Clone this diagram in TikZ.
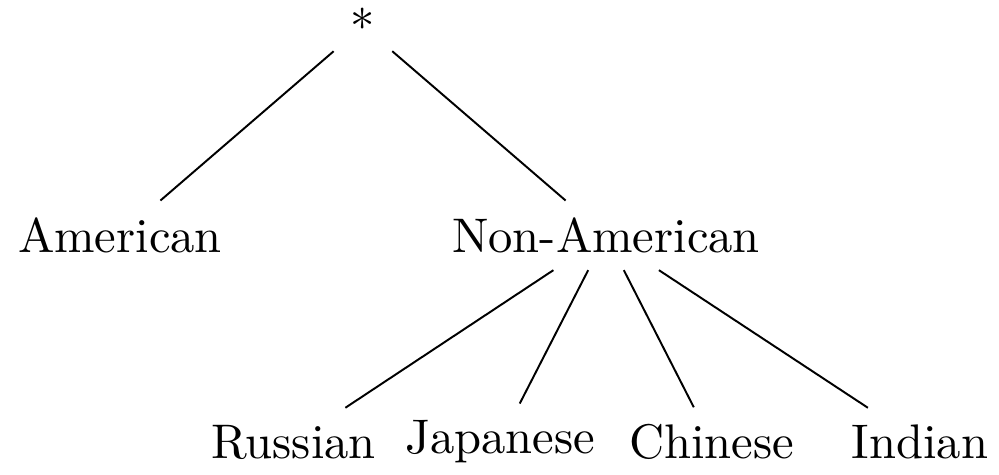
\documentclass[tikz,border=0pt]{standalone}
\usepackage{tikz}

\begin{document}
\begin{tikzpicture}[label/.style={inner sep=0.333em}]
    \useasboundingbox (0,0) rectangle (7.225,-3.435);
    % ---- root and first level
    \node[label] (root) at (2.625,-0.188) {*};
    \node[label] (amer) at (0.868,-1.702) {American};
    \node[label] (nonamer) at (4.383,-1.702) {Non-American};
    \draw (root) -- (amer);
    \draw (root) -- (nonamer);
    % ---- second level
    \node[label] (russian) at (2.123,-3.197) {Russian};
    \node[label] (japanese) at (3.616,-3.197) {Japanese};
    \node[label] (chinese) at (5.146,-3.197) {Chinese};
    \node[label] (indian) at (6.653,-3.197) {Indian};
    \foreach \c in {russian,japanese,chinese,indian} { \draw (nonamer) -- (\c); }
  \end{tikzpicture}
\end{document}
